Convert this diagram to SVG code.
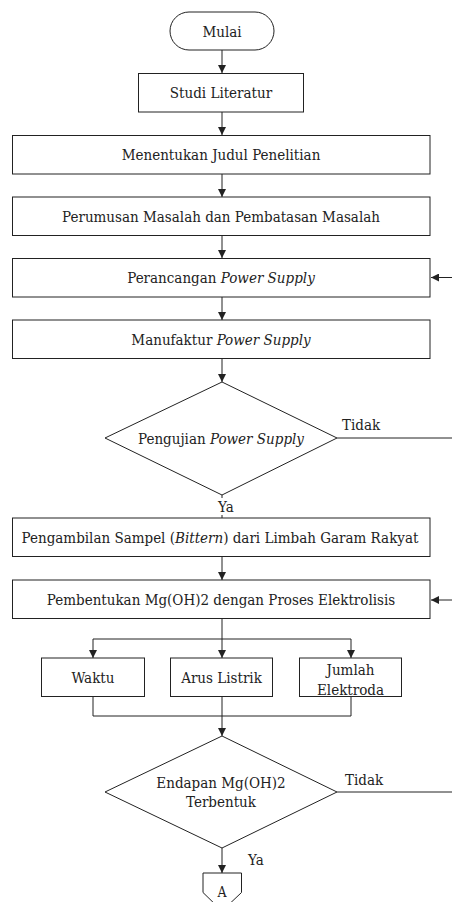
<svg xmlns="http://www.w3.org/2000/svg" width="452" height="902" viewBox="0 0 452 902">
<style>
.n{fill:#fff;stroke:#222;stroke-width:1}
.t{font-family:'DejaVu Serif Condensed','DejaVu Serif','Liberation Serif',serif;font-size:15px;fill:#222;text-anchor:middle}
.l{font-family:'DejaVu Serif Condensed','DejaVu Serif','Liberation Serif',serif;font-size:15px;fill:#222}
.i{font-style:italic}
.c{fill:none;stroke:#222;stroke-width:1}
</style>
<defs>
<marker id="ah" markerWidth="8" markerHeight="8" refX="8" refY="4" orient="auto" markerUnits="userSpaceOnUse">
<path d="M0,0 L8,4 L0,8 z" fill="#222"/>
</marker>
</defs>
<rect width="452" height="902" fill="#fff"/>
<g id="connectors">
<path class="c" d="M222,50 V73" marker-end="url(#ah)"/>
<path class="c" d="M222,112 V135" marker-end="url(#ah)"/>
<path class="c" d="M222,174 V197" marker-end="url(#ah)"/>
<path class="c" d="M222,235.5 V258" marker-end="url(#ah)"/>
<path class="c" d="M222,297 V320" marker-end="url(#ah)"/>
<path class="c" d="M222,358.5 V382" marker-end="url(#ah)"/>
<path class="c" d="M452,277.5 H431" marker-end="url(#ah)"/>
<path class="c" d="M337,438 H452"/>
<path class="c" d="M222,495 V518"/>
<rect x="216" y="498" width="23" height="17" fill="#fff"/>
<text class="l" x="218" y="512">Ya</text>
<path class="c" d="M222,557 V580" marker-end="url(#ah)"/>
<path class="c" d="M452,600 H431" marker-end="url(#ah)"/>
<path class="c" d="M222,619 V639"/>
<path class="c" d="M93,639 H351"/>
<path class="c" d="M93,639 V658" marker-end="url(#ah)"/>
<path class="c" d="M222,639 V658" marker-end="url(#ah)"/>
<path class="c" d="M351,639 V658" marker-end="url(#ah)"/>
<path class="c" d="M93,697 V716 H351 V697"/>
<path class="c" d="M222,697 V736" marker-end="url(#ah)"/>
<path class="c" d="M337,792 H452"/>
<path class="c" d="M222,848 V873" marker-end="url(#ah)"/>
<text class="l" x="342" y="430">Tidak</text>
<text class="l" x="345" y="785">Tidak</text>
<text class="l" x="248" y="865">Ya</text>
</g>
<g id="mulai">
<rect class="n" x="170" y="12" width="104" height="38" rx="19"/>
<text class="t" x="222" y="37">Mulai</text>
</g>
<g id="studi">
<rect class="n" x="138.5" y="73.5" width="165" height="38.5"/>
<text class="t" x="221" y="98">Studi Literatur</text>
</g>
<g id="judul">
<rect class="n" x="12.5" y="135.5" width="417.5" height="38.5"/>
<text class="t" x="221" y="160">Menentukan Judul Penelitian</text>
</g>
<g id="perumusan">
<rect class="n" x="12.5" y="197" width="417.5" height="38.5"/>
<text class="t" x="221" y="222">Perumusan Masalah dan Pembatasan Masalah</text>
</g>
<g id="perancangan">
<rect class="n" x="12.5" y="258.5" width="417.5" height="38.5"/>
<text class="t" x="221" y="283">Perancangan <tspan class="i">Power Supply</tspan></text>
</g>
<g id="manufaktur">
<rect class="n" x="12.5" y="320" width="417.5" height="38.5"/>
<text class="t" x="221" y="345">Manufaktur <tspan class="i">Power Supply</tspan></text>
</g>
<g id="pengujian">
<polygon class="n" points="222,382 337,438 222,495 105,438"/>
<text class="t" x="221" y="444">Pengujian <tspan class="i">Power Supply</tspan></text>
</g>
<g id="pengambilan">
<rect class="n" x="12.5" y="518" width="417.5" height="38.5"/>
<text class="t" x="220" y="543">Pengambilan Sampel (<tspan class="i">Bittern</tspan>) dari Limbah Garam Rakyat</text>
</g>
<g id="pembentukan">
<rect class="n" x="12.5" y="580" width="417.5" height="38.5"/>
<text class="t" x="221" y="605">Pembentukan Mg(OH)2 dengan Proses Elektrolisis</text>
</g>
<g id="waktu">
<rect class="n" x="41.5" y="658" width="103" height="38.5"/>
<text class="t" x="93" y="683">Waktu</text>
</g>
<g id="arus">
<rect class="n" x="170.5" y="658" width="102" height="38.5"/>
<text class="t" x="221.5" y="683">Arus Listrik</text>
</g>
<g id="jumlah">
<rect class="n" x="299.5" y="658" width="102" height="38.5"/>
<text class="t" x="350.5" y="675">Jumlah</text>
<text class="t" x="350.5" y="695">Elektroda</text>
</g>
<g id="endapan">
<polygon class="n" points="222,736 337,792 222,848 105,792"/>
<text class="t" x="221" y="788">Endapan Mg(OH)2</text>
<text class="t" x="221" y="807">Terbentuk</text>
</g>
<g id="a">
<polygon class="n" points="203,873 241.5,873 241.5,892.5 222,911 203,892.5"/>
<text class="t" x="222" y="897" style="font-size:14px">A</text>
</g>
</svg>
